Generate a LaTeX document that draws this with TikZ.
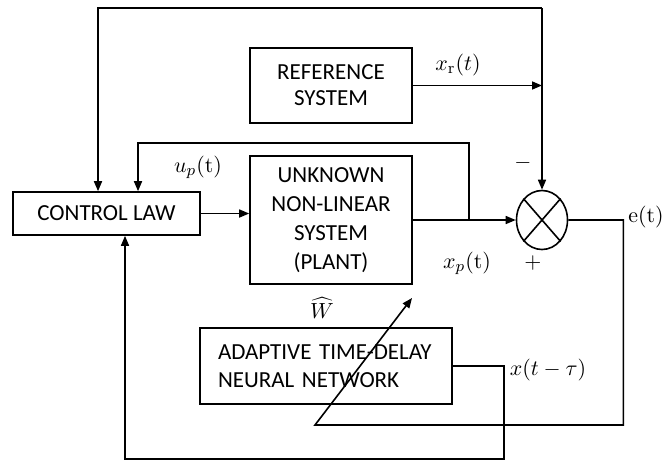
\documentclass[tikz,border=0pt]{standalone}
\usepackage[no-math]{fontspec}
\setmainfont{Carlito}
\usetikzlibrary{arrows.meta,positioning,calc,shapes.geometric}

\begin{document}
\begin{tikzpicture}[x=0.5pt,y=-0.5pt,
  box/.style={draw,line width=0.8pt,align=center,inner sep=0pt,
              font=\fontsize{11.5}{14}\selectfont},
  arr/.style={-{Triangle[length=5pt,width=4pt]},line width=0.8pt},
  lbl/.style={inner sep=1pt,font=\fontsize{11}{13}\selectfont}]
\useasboundingbox (0,0) rectangle (662,462);
\node[box,minimum width=93.5pt,minimum height=21.5pt] (ctrl) at (106.5,213.5) {CONTROL LAW};
\node[box,minimum width=81pt,minimum height=37.5pt,font=\fontsize{11.5}{13}\selectfont] (ref) at (331,85.5) {REFERENCE\\SYSTEM};
\node[box,minimum width=81pt,minimum height=64pt,font=\fontsize{11.5}{14.5}\selectfont] (plant) at (331,220) {UNKNOWN\\NON-LINEAR\\SYSTEM\\(PLANT)};
\node[box,align=left,text width=108pt,minimum height=38pt,inner xsep=9pt] (nn) at (326,366) {ADAPTIVE TIME-DELAY\\NEURAL NETWORK};
\node[draw,ellipse,line width=0.8pt,minimum width=25.5pt,minimum height=29.5pt,inner sep=0pt] (sum) at (542,220) {};
\draw[line width=0.8pt] (sum.north west) -- (sum.south east) (sum.north east) -- (sum.south west);
\coordinate (tl) at (98,8);
\coordinate (tr) at (542,8);
\coordinate (br) at (469,220);
\coordinate (fb) at (138,143);
\coordinate (w0) at (315,425);
\coordinate (w1) at (412,298);
\coordinate (bl) at (125,459);
\draw[arr] (tr) -- (tl) -- (tl |- ctrl.north);
\draw[arr] (tr) -- (sum.north);
\draw[arr] (ref.east) -- (ref.east -| tr);
\draw[arr] (ctrl.east) -- (plant.west |- ctrl.east);
\draw[arr] (plant.east) -- (sum.west);
\draw[arr] (br) |- (fb) -- (fb |- ctrl.north);
\draw[arr] (sum.east) -- ++(55,0) |- (w0) -- (w1);
\draw[arr] (nn.east) -- ++(51,0) |- (bl) -- (bl |- ctrl.south);
\node[lbl] (xr) at (458,65) {$x_{\mathrm{r}}(t)$};
\node[lbl] (up) at (198,167) {$u_p(\mathrm{t})$};
\node[lbl] (minus) at (523,163) {$-$};
\node[lbl] (xp) at (467,263) {$x_p(\mathrm{t})$};
\node[lbl] (plus) at (533,263) {$+$};
\node[lbl] (err) at (646,217) {$\mathrm{e(t)}$};
\node[lbl] (what) at (322,308) {$\widehat{W}$};
\node[lbl] (xd) at (548,370) {$x(t-\tau)$};
\end{tikzpicture}
\end{document}
